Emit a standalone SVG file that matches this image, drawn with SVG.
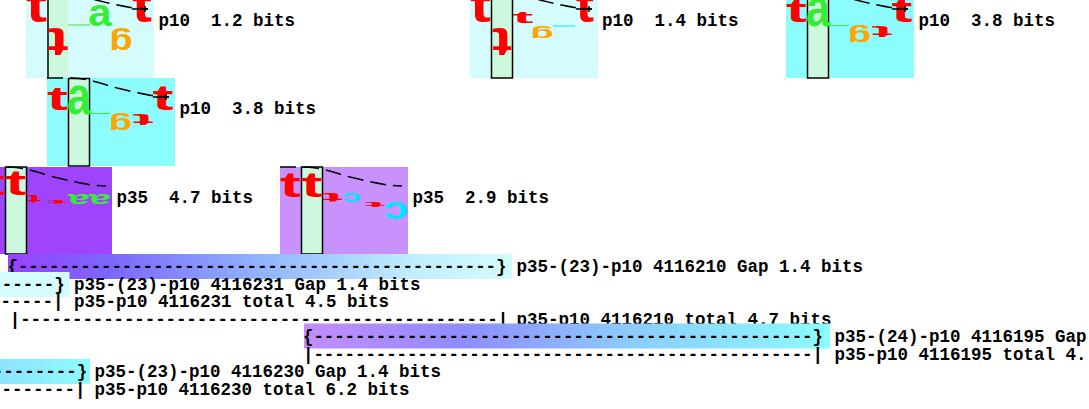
<svg xmlns="http://www.w3.org/2000/svg" width="1089" height="409" viewBox="0 0 1089 409">
<defs>
<style>
.lt{font-family:"Liberation Sans",Arial,sans-serif;font-weight:bold;font-size:10px;text-anchor:middle}
.r{fill:#ff0000}.o{fill:#ffa500}.a{fill:#33ee33}.c{fill:#00e5ff}
.bgl{fill:#d4fcfc}.bgc{fill:#8cfcfc}.bgp{fill:#9d44fc}.bgq{fill:#c891fc}
.col{fill:#ccf9de;stroke:#000;stroke-width:1.5}
.cur{fill:none;stroke:#000;stroke-width:1.5;stroke-dasharray:16 7}
.tk{fill:none;stroke:#000;stroke-width:1.5}
.thg{stroke:#44dd44;stroke-width:1}
.thc{stroke:#00e5ff;stroke-width:1}
.lbl{font-family:"Liberation Mono","Courier New",monospace;font-weight:bold;font-size:17.5px;fill:#000}
</style>
<linearGradient id="gr1" x1="0" y1="0" x2="1" y2="0">
<stop offset="0" stop-color="#9b40ff"/><stop offset="0.2" stop-color="#7c66ff"/><stop offset="0.5" stop-color="#90b4ff"/><stop offset="0.8" stop-color="#bfeeff"/><stop offset="1" stop-color="#d4fcfc"/>
</linearGradient>
<linearGradient id="gr2" x1="0" y1="0" x2="1" y2="0">
<stop offset="0" stop-color="#c68cff"/><stop offset="0.3" stop-color="#8e8cff"/><stop offset="0.6" stop-color="#8cc8ff"/><stop offset="1" stop-color="#8cfcfc"/>
</linearGradient>
<linearGradient id="gr3" x1="0" y1="0" x2="1" y2="0">
<stop offset="0" stop-color="#8ce4ff"/><stop offset="1" stop-color="#8cfcfc"/>
</linearGradient>
<path id="curve" d="M0,0 L25,0 C45,1 55,6 70,10 C90,15 105,18.5 122,19"/>
<path id="tick" d="M106,19 H122 M119,16 V22"/>
<g id="walk38">
<line class="thg" x1="43" y1="35.5" x2="63" y2="35.5"/>
<text class="lt r" transform="translate(10.5,32) scale(6.3,3.3)">t</text>
<text class="lt a" transform="translate(32,36) scale(4.3,5.1)">a</text>
<text class="lt o" transform="translate(73.5,39.5) rotate(180) scale(3.85,2.13)">g</text>
<text class="lt r" transform="translate(96,36) rotate(180) scale(6.3,1.71)">t</text>
<text class="lt r" transform="translate(116,32) scale(6.3,3.43)">t</text>
</g>
</defs>

<g id="p10-a" transform="translate(26,-10)">
<rect class="bgl" x="0" y="0" width="128" height="88"/>
<rect x="22" y="0" width="20" height="88" fill="#ccf9de"/>
<line x1="22" y1="0" x2="22" y2="88" stroke="#000" stroke-width="1.5"/>
<line class="thg" x1="42" y1="35" x2="64" y2="35"/>
<text class="lt r" transform="translate(10.5,32) scale(6.3,4.6)">t</text>
<text class="lt r" transform="translate(32,38) rotate(180) scale(6.3,4.14)">t</text>
<text class="lt a" transform="translate(74,36) scale(4.2,3.8)">a</text>
<text class="lt o" transform="translate(95,44.2) rotate(180) scale(3.85,2.93)">g</text>
<text class="lt r" transform="translate(116,32) scale(6,4.6)">t</text>
<use href="#curve" class="cur"/>
<use href="#tick" class="tk"/>
<text class="lbl" x="132.5" y="36" xml:space="preserve">p10  1.2 bits</text>
</g>

<g id="p10-b" transform="translate(470,-10)">
<rect class="bgl" x="0" y="0" width="128" height="88"/>
<rect class="col" x="21.5" y="0" width="21" height="88"/>
<line class="thc" x1="83" y1="36" x2="105" y2="36"/>
<text class="lt r" transform="translate(10.5,32) scale(6.3,4.6)">t</text>
<text class="lt r" transform="translate(32,38) rotate(180) scale(6,4.14)">t</text>
<text class="lt r" transform="translate(53,33) scale(6.3,1.57)">t</text>
<text class="lt o" transform="translate(72,38.6) rotate(180) scale(3.85,1.73)">g</text>
<text class="lt r" transform="translate(115,32) scale(5.5,4.6)">t</text>
<use href="#curve" class="cur"/>
<use href="#tick" class="tk"/>
<text class="lbl" x="132" y="36" xml:space="preserve">p10  1.4 bits</text>
</g>

<g id="p10-c" transform="translate(786,-10)">
<rect class="bgc" x="0" y="0" width="128" height="88"/>
<rect class="col" x="21.5" y="0" width="21" height="88"/>
<use href="#walk38"/>
<use href="#curve" class="cur"/>
<use href="#tick" class="tk"/>
<text class="lbl" x="132.5" y="36" xml:space="preserve">p10  3.8 bits</text>
</g>

<g id="p10-d" transform="translate(47,78)">
<rect class="bgc" x="0" y="0" width="128" height="88"/>
<rect class="col" x="21.5" y="0.5" width="21" height="87.5"/>
<use href="#walk38"/>
<use href="#curve" class="cur"/>
<use href="#tick" class="tk"/>
<text class="lbl" x="132.5" y="36" xml:space="preserve">p10  3.8 bits</text>
</g>

<g id="p35-a" transform="translate(-16,167)">
<rect class="bgp" x="0" y="0" width="128" height="87"/>
<rect class="col" x="21.5" y="0" width="21" height="87"/>
<text class="lt r" transform="translate(10.5,28) scale(6.3,3.57)">t</text>
<text class="lt r" transform="translate(32,28) scale(6.3,3.57)">t</text>
<text class="lt r" transform="translate(49.5,28) rotate(180) scale(4.3,1.14)">t</text>
<text class="lt r" transform="translate(73.5,33) rotate(180) scale(6.3,0.57)">t</text>
<text class="lt a" transform="translate(95,27.2) rotate(180) scale(3.9,1.82)">a</text>
<text class="lt a" transform="translate(116,27.2) rotate(180) scale(3.9,1.82)">a</text>
<use href="#curve" class="cur"/>
<text class="lbl" x="132.5" y="36" xml:space="preserve">p35  4.7 bits</text>
</g>

<g id="p35-b" transform="translate(280,167)">
<rect class="bgq" x="0" y="0" width="128" height="87"/>
<rect class="col" x="21.5" y="0" width="21" height="87"/>
<text class="lt r" transform="translate(10.5,30) scale(6.3,3.43)">t</text>
<text class="lt r" transform="translate(32,30) scale(6.3,3.43)">t</text>
<text class="lt r" transform="translate(52.5,26) rotate(180) scale(6.3,1.29)">t</text>
<text class="lt c" transform="translate(71.5,26.2) rotate(180) scale(3.5,1.6)">c</text>
<text class="lt r" transform="translate(95,35) rotate(180) scale(6.3,0.71)">t</text>
<text class="lt c" transform="translate(116,35.3) rotate(180) scale(4.5,3.2)">c</text>
<use href="#curve" class="cur"/>
<text class="lbl" x="132.5" y="36" xml:space="preserve">p35  2.9 bits</text>
</g>

<g id="connectors">
<g id="gap-4116210">
<rect x="8" y="254" width="504" height="25" fill="url(#gr1)"/>
<text class="lbl" x="7.5" y="272" textLength="499" lengthAdjust="spacing">{----------------------------------------------}</text>
<text class="lbl" x="516.5" y="272">p35-(23)-p10 4116210 Gap 1.4 bits</text>
</g>
<g id="gap-4116231">
<rect x="0" y="272" width="69.5" height="25" fill="#d4fcfc"/>
<text class="lbl" x="-8.75" y="289.5">------}</text>
<text class="lbl" x="74" y="289.5">p35-(23)-p10 4116231 Gap 1.4 bits</text>
<text class="lbl" x="-10" y="307">------|</text>
<text class="lbl" x="74" y="307">p35-p10 4116231 total 4.5 bits</text>
</g>
<g id="total-4116210">
<text class="lbl" x="9.8" y="324.5" textLength="498.4" lengthAdjust="spacing">|----------------------------------------------|</text>
<text class="lbl" x="516.5" y="324.5">p35-p10 4116210 total 4.7 bits</text>
</g>
<g id="gap-4116195">
<rect x="304" y="323.5" width="526" height="25" fill="url(#gr2)"/>
<text class="lbl" x="303" y="342" textLength="520" lengthAdjust="spacing">{------------------------------------------------}</text>
<text class="lbl" x="834.5" y="342">p35-(24)-p10 4116195 Gap</text>
<text class="lbl" x="303" y="359.5" textLength="520" lengthAdjust="spacing">|------------------------------------------------|</text>
<text class="lbl" x="834.5" y="359.5">p35-p10 4116195 total 4.</text>
</g>
<g id="gap-4116230">
<rect x="0" y="359" width="90" height="25" fill="url(#gr3)"/>
<text class="lbl" x="-7.25" y="377">--------}</text>
<text class="lbl" x="94.5" y="377">p35-(23)-p10 4116230 Gap 1.4 bits</text>
<text class="lbl" x="-9" y="394.5">--------|</text>
<text class="lbl" x="94.5" y="394.5">p35-p10 4116230 total 6.2 bits</text>
</g>
</g>
</svg>
